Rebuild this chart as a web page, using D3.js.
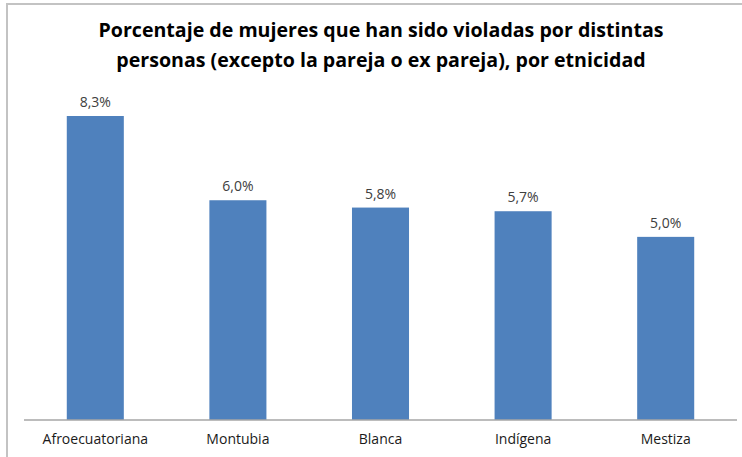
<!DOCTYPE html>
<html>
<head>
  <meta charset="utf-8">
  <title>Violencia sexual por etnicidad</title>
  <script src="https://d3js.org/d3.v7.min.js"></script>
  <style>
    body { margin: 0; background: #fff; }
  </style>
</head>
<body>
  <script>
    var width = 742;
    var height = 457;

    // datos
    var categorias = ["Afroecuatoriana", "Montubia", "Blanca", "Indígena", "Mestiza"];
    var valores = [8.3, 6.0, 5.8, 5.7, 5.0];
    var tituloLineas = [
      "Porcentaje de mujeres que han sido violadas por distintas",
      "personas (excepto la pareja o ex pareja), por etnicidad"
    ];

    var svg = d3.select("body").append("svg")
      .attr("width", width)
      .attr("height", height);

    // marco (sólo se ve arriba e izquierda)
    svg.append("path")
      .attr("d", "M7," + height + "V4H" + width)
      .attr("fill", "none")
      .attr("stroke", "#c3c3c3")
      .attr("stroke-width", 2);

    svg.append("text")
      .attr("x", 381)
      .attr("y", 37)
      .attr("text-anchor", "middle")
      .style("font-family", "'Open Sans', sans-serif")
      .style("font-weight", "bold")
      .style("font-size", "19.6px")
      .attr("fill", "#000")
      .selectAll("tspan")
      .data(tituloLineas)
      .enter()
      .append("tspan")
      .attr("x", 381)
      .attr("dy", function (d, i) { return i === 0 ? 0 : 30; })
      .text(function (d) { return d; });

    var x = d3.scaleBand()
      .domain(categorias)
      .range([24, 737])
      .paddingInner(0.6)
      .paddingOuter(0.3);

    var y = d3.scaleLinear()
      .domain([0, 8.3])
      .range([420, 116]);

    svg.selectAll("rect.bar")
      .data(valores)
      .enter()
      .append("rect")
      .attr("class", "bar")
      .attr("x", function (d, i) { return x(categorias[i]); })
      .attr("y", function (d) { return y(d); })
      .attr("width", x.bandwidth())
      .attr("height", function (d) { return y(0) - y(d); })
      .attr("fill", "#4f81bd");

    svg.selectAll("text.valor")
      .data(valores)
      .enter()
      .append("text")
      .attr("class", "valor")
      .attr("x", function (d, i) { return x(categorias[i]) + x.bandwidth() / 2; })
      .attr("y", function (d) { return y(d) - 9; })
      .attr("text-anchor", "middle")
      .style("font-family", "'Open Sans', sans-serif")
      .style("font-size", "14px")
      .attr("fill", "#404040")
      .text(function (d) { return d.toFixed(1).replace(".", ",") + "%"; });

    var xAxis = d3.axisBottom(x).tickSize(0).tickPadding(14);

    var gX = svg.append("g")
      .attr("transform", "translate(0," + y(0) + ")")
      .call(xAxis);

    gX.select(".domain")
      .attr("stroke", "#a6a6a6")
      .attr("stroke-width", 1.5)
      .attr("d", "M24,0H737");

    gX.selectAll("text")
      .style("font-family", "'Open Sans', sans-serif")
      .style("font-size", "14px")
      .attr("fill", "#1a1a1a");
  </script>
</body>
</html>
